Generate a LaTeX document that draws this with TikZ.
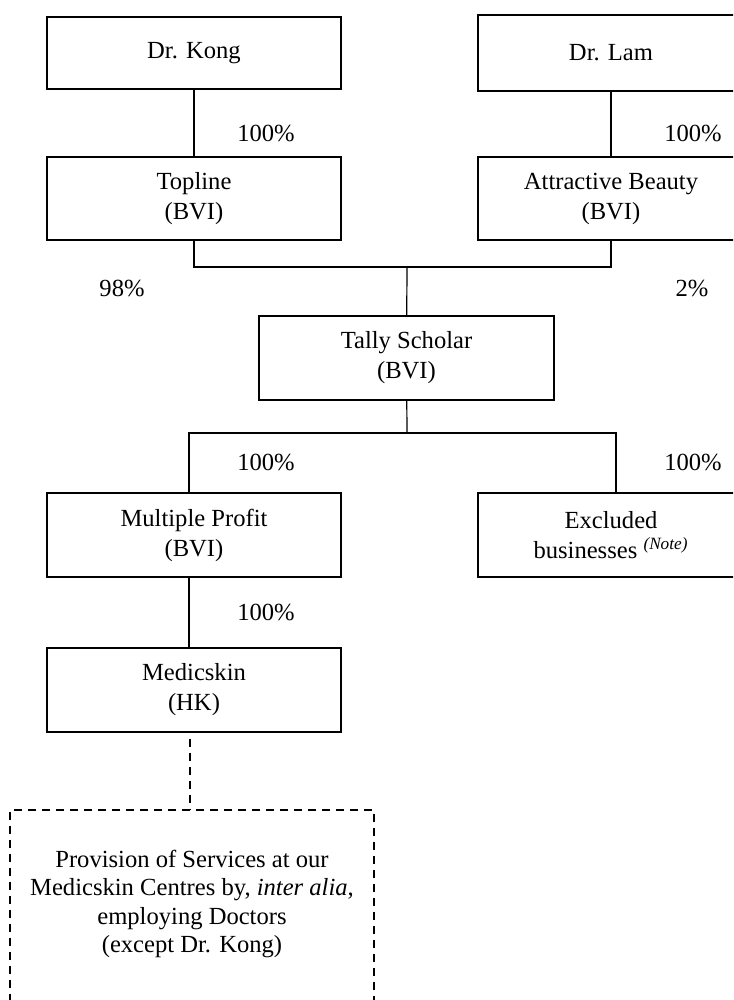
\documentclass[tikz,border=0pt]{standalone}
\usepackage{fontspec}
\setmainfont{Liberation Serif}
\usetikzlibrary{positioning}

\begin{document}
\begin{tikzpicture}[x=0.5pt,y=0.5pt,
  every node/.style={font=\fontsize{12.3}{15}\selectfont},
  box/.style={draw,line width=0.6pt,align=center,inner sep=0pt},
  pct/.style={inner sep=0pt},
  dashline/.style={line width=0.6pt,dash pattern=on 4pt off 3pt}]
\useasboundingbox (0,0) rectangle (733,1000);
\clip (0,0) rectangle (733,1000);

% owners
\node[box,minimum width=147pt,minimum height=36pt] (kong) at (194,947) {Dr. Kong};
\node[box,minimum width=133pt,minimum height=38pt] (lam) at (611,947) {Dr. Lam};

\node[box,minimum width=147pt,minimum height=41.5pt] (topline) at (194,801.5) {Topline\\(BVI)};
\node[box,minimum width=133pt,minimum height=41.5pt] (attractive) at (611,801.5) {Attractive Beauty\\(BVI)};

\node[box,minimum width=147.5pt,minimum height=42pt] (tally) at (406.5,642) {Tally Scholar\\(BVI)};

\node[box,minimum width=147pt,minimum height=42pt] (multiple) at (194,465) {Multiple Profit\\(BVI)};
\node[box,minimum width=133pt,minimum height=42pt] (excluded) at (611,465)
  {Excluded\\businesses \textsuperscript{\textit{(Note)}}};

\node[box,minimum width=147pt,minimum height=42pt] (medicskin) at (194,310) {Medicskin\\(HK)};

\node[draw,dashline,minimum width=182pt,minimum height=125pt,inner sep=0pt] (services) at (192,65) {};
\node[align=center,font=\fontsize{12.3}{14.3}\selectfont] (servicestext) at (192,96)
  {Provision of Services at our\\Medicskin Centres by, \textit{inter alia},\\employing Doctors\\(except Dr. Kong)};

% percentages
\node[pct] (pkong) at (266,867) {100\%};
\node[pct] (plam) at (693,867) {100\%};
\node[pct] (ptopline) at (122,712) {98\%};
\node[pct] (pattractive) at (692,712) {2\%};
\node[pct] (pmultiple) at (266,538) {100\%};
\node[pct] (pexcluded) at (693,538) {100\%};
\node[pct] (pmedicskin) at (266,388) {100\%};

% connectors
\coordinate (fork) at (407,733);
\coordinate (split) at (407,567);
\begin{scope}[line width=0.6pt]
  \draw (kong) -- (topline);
  \draw (lam) -- (attractive);
  \draw (topline.south) |- (fork) -| (attractive.south);
  \draw (fork) -- (tally);
  \draw (tally) -- (split);
  \draw ([xshift=-2.5pt]multiple.north) |- (split) -| ([xshift=2.5pt]excluded.north);
  \draw ([xshift=-2.5pt]multiple.south) -- ([xshift=-2.5pt]medicskin.north);
\end{scope}
\draw[dashline] ([xshift=-2pt,yshift=-3pt]medicskin.south) -- ([xshift=-2pt]medicskin.south |- services.north);

\end{tikzpicture}
\end{document}
